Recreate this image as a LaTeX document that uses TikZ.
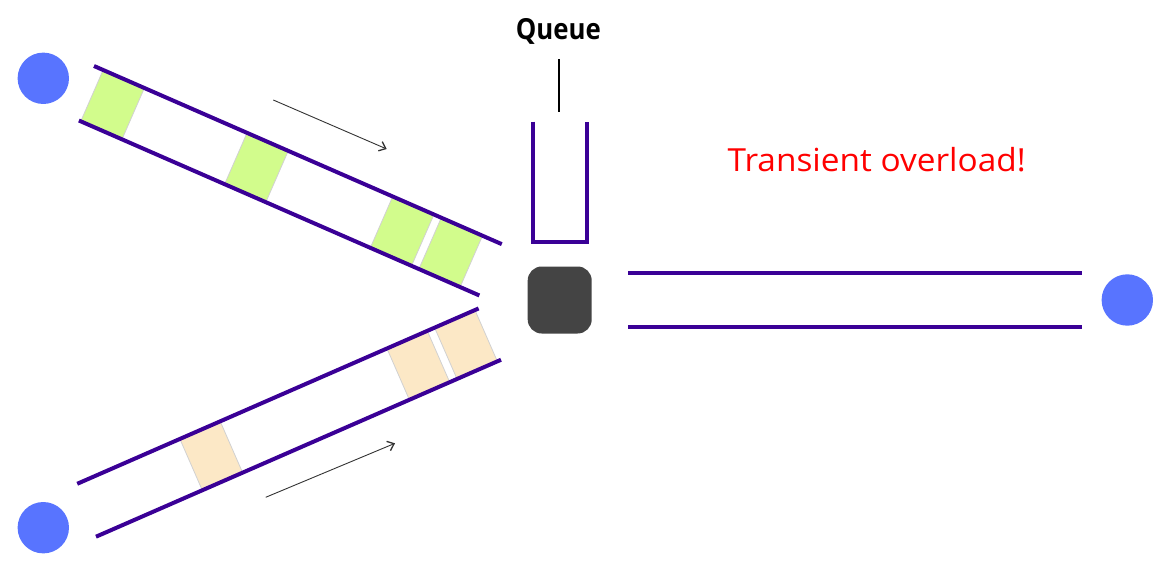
\documentclass[tikz,border=0pt]{standalone}
\usepackage{fontspec}
\setmainfont{Open Sans}
\usetikzlibrary{arrows.meta}
\definecolor{linkc}{RGB}{58,0,150}
\definecolor{hostc}{RGB}{88,116,255}
\definecolor{pktgreen}{RGB}{210,252,140}
\definecolor{pkttan}{RGB}{252,232,198}
\definecolor{routerc}{RGB}{68,68,68}
\begin{document}
\begin{tikzpicture}[x=1pt,y=1pt,
  linkline/.style={draw=linkc,line width=4pt},
  hostnode/.style={circle,fill=hostc,minimum size=51.4pt,inner sep=0pt},
  pkt/.style={draw=black!18,line width=0.8pt},
  flowarrow/.style={-{Straight Barb[length=6pt,width=10pt,line width=1.3pt]},line width=0.9pt,draw=black!80}]
\useasboundingbox (0,0) rectangle (1153,563);

% hosts
\node[hostnode] (hostA) at (43.3,484.7) {};
\node[hostnode] (hostB) at (43.3,35.3) {};
\node[hostnode] (hostC) at (1127.3,263) {};

% router
\node[fill=routerc,rounded corners=14pt,minimum width=64pt,minimum height=67pt,inner sep=0pt] (router) at (559.7,263) {};

% top link
\begin{scope}[shift={(94,497)},rotate=-23.6]
  \foreach \a in {10,167,326,379}
    \filldraw[pkt,fill=pktgreen] (\a,-1) rectangle ({\a+45},-55);
  \draw[linkline] (0,0) -- (445,0);
  \draw[linkline] (8,-56) -- (445,-56);
\end{scope}

% bottom link
\begin{scope}[shift={(96,26.3)},rotate=23.6]
  \foreach \a in {116,342,394}
    \filldraw[pkt,fill=pkttan] (\a,1) rectangle ({\a+44},55);
  \draw[linkline] (0,0) -- (442,0);
  \draw[linkline] (4,56) -- (442,56);
\end{scope}

% right link
\draw[linkline] (628,290.3) -- (1082.3,290.3);
\draw[linkline] (628,235.7) -- (1082.3,235.7);

% queue
\draw[linkline] (532.7,441.3) -- (532.7,320.7) -- (586.7,320.7) -- (586.7,441.3);
\node[anchor=base,inner sep=0pt,font=\bfseries\fontsize{29}{34}\selectfont] (qlabel) at (558.3,523) {\scalebox{0.89}[1]{Queue}};
\coordinate (poletop) at (559.3,503.7);
\coordinate (polebot) at (559.3,451.3);
\draw[line width=2pt] (poletop) -- (polebot);

% flow arrows
\coordinate (a1s) at (273.3,463);
\coordinate (a1e) at (386.7,414);
\draw[flowarrow] (a1s) -- (a1e);
\coordinate (a2s) at (265.7,65.7);
\coordinate (a2e) at (395,119.7);
\draw[flowarrow] (a2s) -- (a2e);

% overload label
\node[anchor=base,inner sep=0pt,text=red,font=\fontsize{31.8}{36}\selectfont] (overload) at (876.7,391.3) {\scalebox{1.05}[1]{Transient overload!}};
\end{tikzpicture}
\end{document}
